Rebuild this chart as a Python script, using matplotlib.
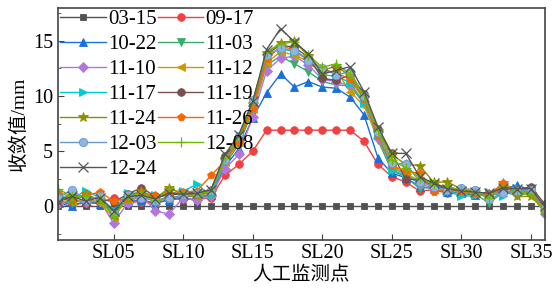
import matplotlib.pyplot as plt
from matplotlib.ticker import MultipleLocator

points = ["SL%02d" % i for i in range(1, 37)]
tick_labels = ["SL05", "SL10", "SL15", "SL20", "SL25", "SL30", "SL35"]

dates = ["03-15", "09-17", "10-22", "11-03", "11-10", "11-12", "11-17",
         "11-19", "11-24", "11-26", "12-03", "12-08", "12-24"]

s_0315 = [0.0, 0.0, 0.0, 0.0, 0.0, 0.0, 0.0, 0.0, 0.0, 0.0, 0.0, 0.0,
          0.0, 0.0, 0.0, 0.0, 0.0, 0.0, 0.0, 0.0, 0.0, 0.0, 0.0, 0.0,
          0.0, 0.0, 0.0, 0.0, 0.0, 0.0, 0.0, 0.0, 0.0, 0.0, 0.0, 0.0]
s_0917 = [0.4, 0.2, 0.3, 0.3, 0.8, 0.4, 0.4, 0.3, 0.6, 0.7, 0.6, 0.8,
          2.8, 3.8, 5.0, 6.9, 6.9, 6.9, 6.9, 6.9, 6.9, 6.9, 5.9, 3.8,
          2.7, 2.2, 1.4, 1.5, 1.2, 1.3, 1.1, 0.9, 1.5, 1.2, 1.4, -0.2]
s_1022 = [0.3, 0.0, 0.5, 0.2, -0.3, 0.4, 0.6, 0.3, 0.6, 0.9, 0.9, 1.0,
          3.6, 5.2, 8.0, 10.3, 12.0, 10.8, 11.3, 10.8, 10.7, 9.9, 8.3, 4.4,
          3.0, 2.6, 1.8, 1.6, 1.3, 1.2, 1.0, 1.2, 1.6, 1.9, 1.5, -0.3]
s_1103 = [0.5, 0.3, 0.6, 0.4, -0.6, 0.6, 0.9, 0.5, 0.9, 0.8, 0.5, 1.2,
          3.8, 5.6, 8.6, 12.8, 13.6, 12.9, 12.2, 11.3, 11.0, 10.9, 9.3, 6.0,
          3.2, 2.7, 1.6, 1.8, 1.4, 1.2, 1.1, 0.3, 1.3, 1.0, 1.2, -0.4]
s_1110 = [0.2, 0.6, 0.4, 0.5, -1.5, 0.3, 1.0, -0.4, -0.7, 0.8, 0.6, 0.9,
          3.4, 4.7, 8.1, 12.3, 13.4, 13.6, 12.8, 11.5, 11.3, 10.9, 9.5, 6.2,
          3.5, 2.9, 2.0, 1.7, 1.5, 1.3, 1.2, 0.9, 1.4, 1.1, 1.3, -0.7]
s_1112 = [0.8, 0.4, 0.7, 0.3, -1.0, 0.7, 1.1, 0.4, 0.8, 1.0, 0.9, 1.3,
          4.0, 5.8, 8.8, 13.0, 14.0, 13.7, 13.1, 12.0, 12.3, 10.4, 9.1, 6.3,
          3.6, 3.0, 2.3, 1.9, 1.7, 1.4, 1.2, 1.0, 1.8, 1.3, 1.2, -0.5]
s_1117 = [1.0, 0.7, 1.4, 0.8, -0.3, 1.2, 1.2, 1.0, 1.2, 1.4, 2.0, 1.0,
          4.3, 6.0, 9.1, 13.6, 14.3, 14.0, 13.3, 11.9, 11.8, 11.2, 9.4, 6.5,
          3.3, 2.8, 2.2, 2.1, 1.4, 0.9, 1.0, 1.35, 0.9, 1.7, 1.4, -0.3]
s_1119 = [0.6, 1.0, 0.8, 0.7, 0.4, 1.1, 1.7, 0.9, 1.0, 1.2, 1.3, 1.5,
          4.6, 6.1, 9.2, 13.8, 14.6, 14.4, 13.5, 11.6, 11.4, 11.9, 10.2, 7.0,
          4.8, 2.5, 2.4, 1.9, 1.6, 1.5, 1.3, 1.1, 1.6, 1.5, 1.8, 0.2]
s_1124 = [0.9, 0.5, 1.1, 0.6, -0.8, 0.9, 1.4, 0.7, 1.7, 1.1, 1.0, 1.3,
          4.3, 6.2, 9.3, 13.9, 14.8, 15.0, 13.6, 12.3, 12.7, 11.8, 9.8, 6.8,
          4.7, 3.8, 3.7, 2.2, 2.2, 1.6, 1.3, 1.0, 2.1, 0.9, 0.9, -0.4]
s_1126 = [1.3, 0.8, 1.0, 1.3, 0.5, 0.7, 1.2, 1.0, 1.1, 1.3, 1.4, 2.8,
          4.1, 5.9, 8.9, 13.3, 14.5, 14.2, 13.2, 12.4, 12.1, 11.5, 9.7, 6.4,
          3.7, 3.2, 3.0, 1.35, 1.5, 1.4, 1.2, 1.1, 2.1, 1.4, 1.3, -0.3]
s_1203 = [0.8, 1.5, 0.6, 0.9, -0.6, 1.0, 0.8, 0.5, 0.75, 1.0, 1.2, 1.4,
          4.2, 6.4, 9.6, 13.7, 14.3, 14.1, 13.2, 12.5, 11.9, 12.2, 10.0, 6.7,
          3.9, 3.85, 2.25, 1.8, 1.5, 1.65, 1.5, 0.65, 1.25, 1.4, 1.5, -0.2]
s_1208 = [1.6, 0.9, 0.9, 0.7, -0.9, 0.8, 1.3, 0.6, 1.6, 1.2, 1.1, 1.4,
          4.4, 6.3, 9.4, 14.0, 14.7, 14.9, 13.7, 12.6, 12.9, 12.0, 10.1, 6.9,
          4.2, 3.5, 2.6, 2.0, 1.8, 1.5, 1.2, 0.8, 1.9, 1.4, 1.1, -0.5]
s_1224 = [0.4, 0.9, 0.5, 0.8, -0.4, 0.9, 1.0, 0.7, 1.2, 1.1, 1.2, 1.5,
          4.7, 6.5, 9.5, 14.2, 16.1, 14.9, 13.8, 12.0, 12.3, 12.65, 10.4, 7.2,
          4.8, 4.8, 2.7, 2.1, 1.6, 1.4, 1.3, 1.2, 1.7, 1.6, 1.6, 0.0]

series = [s_0315, s_0917, s_1022, s_1103, s_1110, s_1112, s_1117,
          s_1119, s_1124, s_1126, s_1203, s_1208, s_1224]
colors = ["#515151", "#F14040", "#1A6FDF", "#37AD6B", "#B177DE", "#CC9900",
          "#00CBCC", "#7D4E4E", "#8E8E00", "#FB6501", "#6699CC", "#6FB802",
          "#555555"]
markers = ["s", "o", "^", "v", "D", "<", ">", "o", "*", "p", "o", "+", "x"]
sizes = [5, 5.5, 6, 6, 5, 6, 6, 5.5, 7, 6, 6, 7, 7]

plt.rcParams["font.family"] = ["Liberation Serif", "Noto Sans CJK SC"]

fig = plt.figure(figsize=(5.52, 2.89), dpi=100)
ax = fig.add_axes([0.105, 0.171, 0.882, 0.803])

x = list(range(1, len(points) + 1))
handles = []
for vals, lab, c, m, ms in zip(series, dates, colors, markers, sizes):
    face = "#8fb4e0" if lab == "12-03" else c
    (h,) = ax.plot(x, vals, color=c, marker=m, markersize=ms, lw=1.0,
                   markerfacecolor=face, markeredgecolor=c,
                   markeredgewidth=0.9 if m in "+x" else 0.6, label=lab)
    handles.append(h)

ax.set_xlim(1, 36)
ax.set_ylim(-3, 18)
ax.set_xticks([points.index(t) + 1 for t in tick_labels])
ax.set_xticklabels(tick_labels)
ax.yaxis.set_major_locator(MultipleLocator(5))
ax.yaxis.set_minor_locator(MultipleLocator(2.5))
ax.tick_params(which="both", direction="in", labelsize=14.5, color="#444444")
ax.tick_params(which="major", length=4)
ax.tick_params(which="minor", length=2.5)
for sp in ax.spines.values():
    sp.set_color("#444444")
    sp.set_linewidth(1.2)

ax.set_xlabel("人工监测点", fontsize=14, labelpad=2)
ax.set_ylabel("收敛值/mm", fontsize=14, labelpad=4)

# legend is filled row by row in the original
order = list(range(0, 13, 2)) + list(range(1, 13, 2))
ax.legend([handles[i] for i in order], [dates[i] for i in order],
          ncol=2, loc="upper left", bbox_to_anchor=(0, 1), frameon=False,
          fontsize=15, handlelength=2.2, handletextpad=0.1,
          columnspacing=0.05, labelspacing=0.26, borderpad=0.1,
          borderaxespad=0)

fig.savefig("out.png", dpi=100)
